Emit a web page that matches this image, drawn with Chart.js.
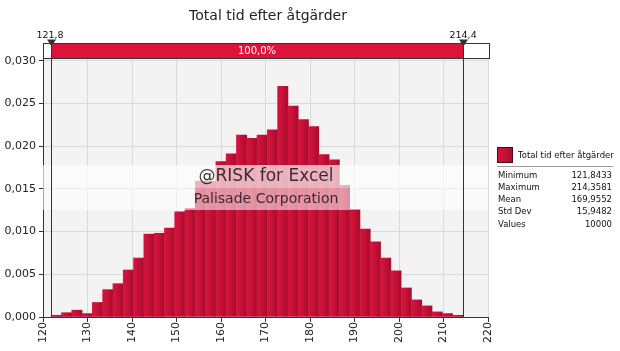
<!DOCTYPE html>
<html>
<head>
<meta charset="utf-8">
<script src="https://cdn.jsdelivr.net/npm/chart.js@4.4.0/dist/chart.umd.min.js"></script>
<style>
  html, body { margin: 0; padding: 0; background: #fff; }
</style>
</head>
<body>
<canvas id="chart" width="620" height="351"></canvas>
<script>
const chartTitle = 'Total tid efter åtgärder';
const seriesName = 'Total tid efter åtgärder';
const binMin = 121.8433;
const binMax = 214.3581;
const density = [
  0.0002, 0.0005, 0.0008, 0.0004, 0.0017, 0.0032, 0.0039, 0.0055, 0.0069, 0.0097,
  0.0098, 0.0104, 0.0123, 0.0127, 0.0159, 0.0159, 0.0182, 0.0191, 0.0213, 0.0209,
  0.0213, 0.0219, 0.0270, 0.0247, 0.0231, 0.0223, 0.0190, 0.0184, 0.0154, 0.0126,
  0.0103, 0.0088, 0.0069, 0.0054, 0.0034, 0.0020, 0.0013, 0.0006, 0.0004, 0.0002
];
const xTicks = [120, 130, 140, 150, 160, 170, 180, 190, 200, 210, 220];
const yTicks = [0, 0.005, 0.010, 0.015, 0.020, 0.025, 0.030];
const markerLeft = 121.8;
const markerRight = 214.4;
const markerLeftLabel = '121,8';
const markerRightLabel = '214,4';
const markerPct = '100,0%';
const statNames = ['Minimum', 'Maximum', 'Mean', 'Std Dev', 'Values'];
const statValues = ['121,8433', '214,3581', '169,9552', '15,9482', '10000'];

const FONT = '"DejaVu Sans", sans-serif';
const binWidth = (binMax - binMin) / density.length;
const points = density.map((d, i) => ({ x: binMin + (i + 0.5) * binWidth, y: d }));

function redGradient(ctx, l, r) {
  const g = ctx.createLinearGradient(l, 0, r, 0);
  g.addColorStop(0, '#d5163e');
  g.addColorStop(0.5, '#c41036');
  g.addColorStop(1, '#a30d2e');
  return g;
}

function barFill(c) {
  const xs = c.chart.scales.x;
  if (c.type !== 'data' || !xs) return '#c41036';
  const l = xs.getPixelForValue(binMin + c.dataIndex * binWidth);
  const r = xs.getPixelForValue(binMin + (c.dataIndex + 1) * binWidth);
  if (!isFinite(l) || !isFinite(r) || r <= l) return '#c41036';
  return redGradient(c.chart.ctx, l, r);
}

const decor = {
  id: 'decor',
  beforeDraw(chart) {
    const { ctx, chartArea: a } = chart;
    ctx.save();
    ctx.fillStyle = '#fff';
    ctx.fillRect(0, 0, chart.width, chart.height);
    ctx.fillStyle = '#f3f3f3';
    ctx.fillRect(a.left, a.top, a.right - a.left, a.bottom - a.top);
    ctx.restore();
  },
  afterDatasetsDraw(chart) {
    const { ctx, chartArea: a } = chart;
    const xs = chart.scales.x;
    ctx.save();

    // watermark band
    ctx.fillStyle = 'rgba(255,255,255,0.68)';
    ctx.fillRect(a.left, 165, a.right - a.left, 23);
    ctx.fillStyle = 'rgba(255,255,255,0.55)';
    ctx.fillRect(a.left, 188, a.right - a.left, 22);
    ctx.fillStyle = 'rgba(35,22,26,0.88)';
    ctx.textAlign = 'center';
    ctx.textBaseline = 'middle';
    ctx.font = '17px ' + FONT;
    ctx.fillText('@RISK for Excel', 266, 177);
    ctx.font = '14px ' + FONT;
    ctx.fillText('Palisade Corporation', 266, 199);

    // title
    ctx.fillStyle = '#222';
    ctx.font = '14px ' + FONT;
    ctx.fillText(chartTitle, 268, 16);

    // delimiter bar on top
    const lx = xs.getPixelForValue(markerLeft);
    const rx = xs.getPixelForValue(markerRight);
    ctx.fillStyle = '#fff';
    ctx.fillRect(43, 43, 447, 15);
    ctx.fillStyle = '#dc143c';
    ctx.fillRect(lx, 43, rx - lx, 15);
    ctx.strokeStyle = '#333';
    ctx.lineWidth = 1;
    ctx.strokeRect(43.5, 43.5, 446, 15);
    ctx.fillStyle = '#fff';
    ctx.font = '10px ' + FONT;
    ctx.fillText(markerPct, (lx + rx) / 2, 51);

    // marker lines and triangles
    ctx.strokeStyle = '#333';
    [lx, rx].forEach(px => {
      const x = Math.round(px) + 0.5;
      ctx.beginPath();
      ctx.moveTo(x, 46);
      ctx.lineTo(x, a.bottom);
      ctx.stroke();
      ctx.fillStyle = '#333';
      ctx.beginPath();
      ctx.moveTo(x - 4.5, 39.5);
      ctx.lineTo(x + 4.5, 39.5);
      ctx.lineTo(x, 46.5);
      ctx.closePath();
      ctx.fill();
    });
    ctx.fillStyle = '#111';
    ctx.font = '9.5px ' + FONT;
    ctx.textBaseline = 'alphabetic';
    ctx.fillText(markerLeftLabel, lx - 1, 37.5);
    ctx.fillText(markerRightLabel, rx, 37.5);

    // rotated x tick labels
    ctx.fillStyle = '#222';
    ctx.font = '11px ' + FONT;
    ctx.textAlign = 'right';
    ctx.textBaseline = 'middle';
    xTicks.forEach(v => {
      ctx.save();
      ctx.translate(xs.getPixelForValue(v), 322);
      ctx.rotate(-Math.PI / 2);
      ctx.fillText(String(v), 0, 0);
      ctx.restore();
    });

    // legend and statistics
    ctx.fillStyle = redGradient(ctx, 497, 513);
    ctx.fillRect(497, 147, 16, 16);
    ctx.strokeStyle = '#4a0a16';
    ctx.strokeRect(497.5, 147.5, 15, 15);
    ctx.fillStyle = '#111';
    ctx.textAlign = 'left';
    ctx.font = '8.5px ' + FONT;
    ctx.fillText(seriesName, 518, 155.5);
    ctx.strokeStyle = '#999';
    ctx.beginPath();
    ctx.moveTo(497, 166.5);
    ctx.lineTo(613, 166.5);
    ctx.stroke();
    statNames.forEach((n, i) => {
      const y = 175.5 + i * 12.2;
      ctx.textAlign = 'left';
      ctx.fillText(n, 498, y);
      ctx.textAlign = 'right';
      ctx.fillText(statValues[i], 612, y);
    });
    ctx.restore();
  }
};

new Chart(document.getElementById('chart'), {
  type: 'bar',
  data: {
    datasets: [{
      label: seriesName,
      data: points,
      backgroundColor: barFill,
      borderWidth: 0,
      barPercentage: 1,
      categoryPercentage: 1
    }]
  },
  options: {
    responsive: false,
    animation: false,
    devicePixelRatio: 1,
    layout: { padding: { top: 59, right: 132, left: 0, bottom: 0 } },
    plugins: { legend: { display: false }, tooltip: { enabled: false } },
    scales: {
      x: {
        type: 'linear',
        min: 120,
        max: 220,
        offset: false,
        grid: { offset: false, color: '#d9d9d9', tickColor: '#333', tickLength: 5 },
        border: { color: '#333' },
        ticks: { display: false },
        afterBuildTicks: s => { s.ticks = xTicks.map(v => ({ value: v })); },
        afterFit: s => { s.height = 34; }
      },
      y: {
        min: 0,
        max: 0.0302,
        grid: { color: '#d9d9d9', tickColor: '#333', tickLength: 4 },
        border: { color: '#333' },
        ticks: {
          padding: 3,
          color: '#222',
          font: { family: FONT, size: 11 },
          callback: v => v.toFixed(3).replace('.', ',')
        },
        afterBuildTicks: s => { s.ticks = yTicks.map(v => ({ value: v })); },
        afterFit: s => { s.width = 43; }
      }
    }
  },
  plugins: [decor]
});
</script>
</body>
</html>
